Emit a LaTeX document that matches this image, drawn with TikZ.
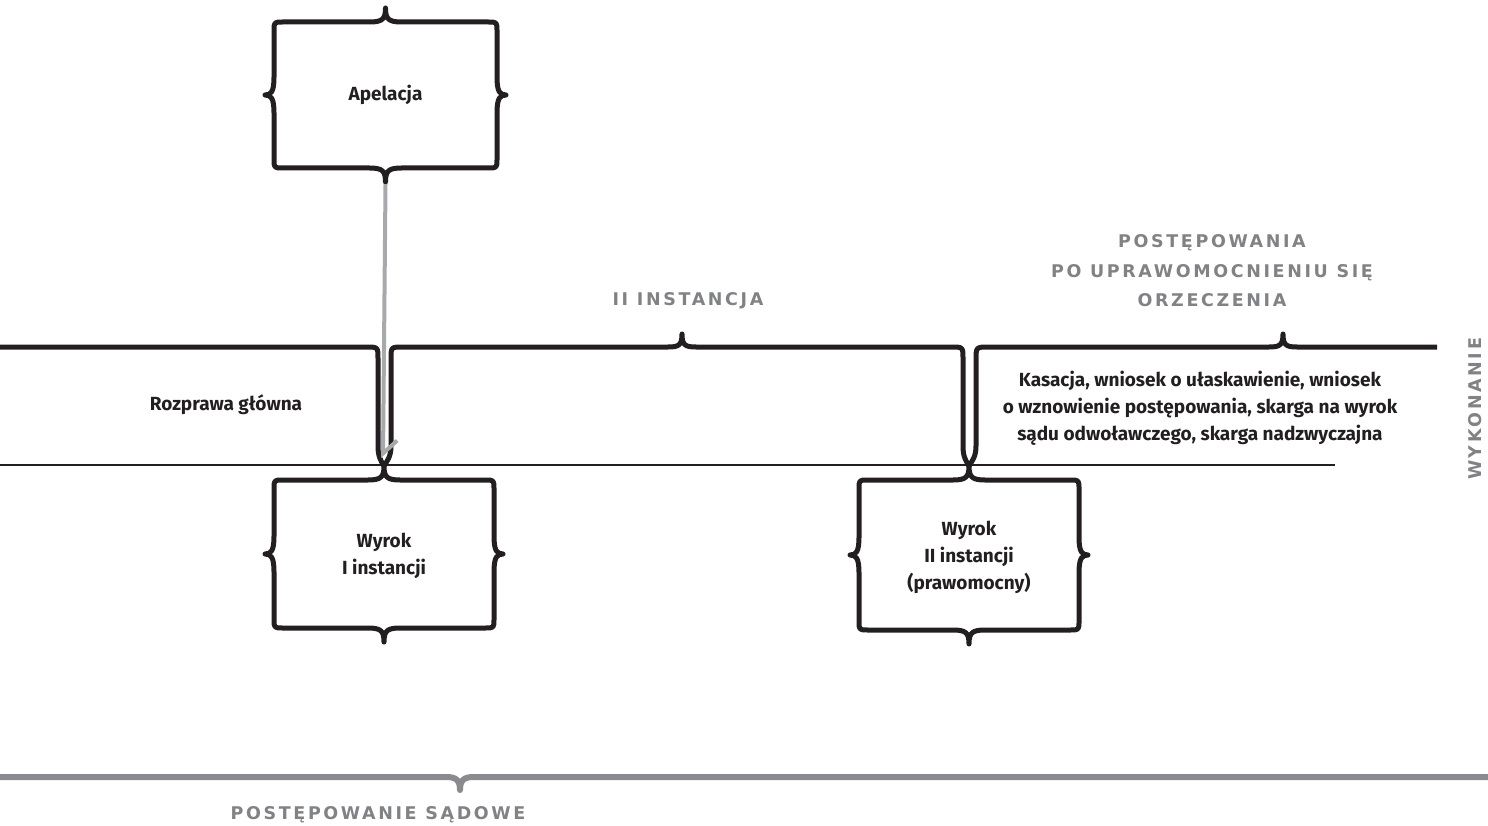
\documentclass[tikz,border=0pt]{standalone}
\usepackage{fontspec}
\setmainfont{Fira Sans}
\newfontfamily\capfont{DejaVu Sans}[LetterSpace=15]
\usetikzlibrary{arrows.meta,calc}
\definecolor{ink}{HTML}{231F20}
\definecolor{lbl}{HTML}{808285}
\definecolor{arr}{HTML}{A7A9AC}
\definecolor{brc}{HTML}{8A8B8E}
\tikzset{
  boxline/.style={draw=ink, line width=5pt, line join=round},
  thinline/.style={draw=ink, line width=2pt},
  greybrace/.style={draw=brc, line width=6pt, line join=round},
  arrowline/.style={draw=arr, line width=4pt, -{Straight Barb[harpoon,length=13pt,width=28pt]}},
  boxtext/.style={font={\fontsize{19}{27}\selectfont\bfseries}, text=ink, align=center, inner sep=0pt},
  caplabel/.style={font={\capfont\fontsize{17.5}{29.5}\selectfont\bfseries}, text=lbl, align=center, inner sep=0pt},
}
\newcommand{\BBox}[4]{%
\begin{scope}[shift={(#1,#2)}]
\draw[boxline]
 ({-#3+9},-#4) -- (-16,-#4) .. controls (-3,-#4) and (0,{-#4-3}) .. (0,{-#4-14})
 .. controls (0,{-#4-3}) and (3,-#4) .. (16,-#4) -- ({#3-9},-#4)
 .. controls (#3,-#4) .. (#3,{-#4+9}) -- (#3,-18) .. controls (#3,-3) and ({#3+3},0) .. ({#3+9},0)
 .. controls ({#3+3},0) and (#3,3) .. (#3,18) -- (#3,{#4-9}) .. controls (#3,#4) .. ({#3-9},#4)
 -- (16,#4) .. controls (3,#4) and (0,{#4+3}) .. (0,{#4+14}) .. controls (0,{#4+3}) and (-3,#4) .. (-16,#4)
 -- ({-#3+9},#4) .. controls (-#3,#4) .. (-#3,{#4-9}) -- (-#3,18) .. controls (-#3,3) and ({-#3-3},0) .. ({-#3-9},0)
 .. controls ({-#3-3},0) and (-#3,-3) .. (-#3,-18) -- (-#3,{-#4+9}) .. controls (-#3,-#4) .. ({-#3+9},-#4) -- cycle;
\end{scope}}
\begin{document}
\begin{tikzpicture}[x=1pt,y=-1pt]
\useasboundingbox (0,0) rectangle (1488,826);
% boxes
\BBox{385.5}{95}{111.5}{73}
\node[boxtext, minimum width=223pt, minimum height=146pt] (apel) at (385.5,95) {Apelacja};
\BBox{384}{554}{110}{74}
\node[boxtext, minimum width=220pt, minimum height=148pt] (w1) at (384,556) {Wyrok\\I instancji};
\BBox{969}{555}{110}{75}
\node[boxtext, minimum width=220pt, minimum height=150pt] (w2) at (969,557) {Wyrok\\II instancji\\(prawomocny)};
% junctions
\coordinate (j1) at (384,466);
\coordinate (j2) at (969,466);
% thin line
\coordinate (tl) at (0,465);
\coordinate (tr) at (1335,465);
\draw[thinline] (tl) -- (tr);
% top brackets
\coordinate (bl) at (0,347);
\draw[boxline] (bl) -- (366,347) .. controls (378,347) .. (378,359) -- (378,446)
  .. controls (378,457) and (381,461) .. (j1);
\draw[boxline] (j1) .. controls (387,461) and (391,457) .. (391,446) -- (391,359)
  .. controls (391,347) .. (403,347) -- (668,347) .. controls (679,347) and (682,345) .. (682,334)
  .. controls (682,345) and (685,347) .. (696,347) -- (951,347)
  .. controls (963,347) .. (963,359) -- (963,446) .. controls (963,457) and (966,461) .. (j2);
\coordinate (br) at (1437,347);
\draw[boxline] (j2) .. controls (972,461) and (976,457) .. (976,446) -- (976,360)
  .. controls (976,347) .. (989,347) -- (1269,347) .. controls (1280,347) and (1283,345) .. (1283,334)
  .. controls (1283,345) and (1286,347) .. (1297,347) -- (br);
% arrow
\draw[arrowline] ($(apel.south)+(0,16)$) -- ($(j1)+(-1,-8)$);
% bottom brace
\coordinate (gl) at (0,777);
\coordinate (gr) at (1488,777);
\draw[greybrace] (gl) -- (446,777) .. controls (456,777) and (460,780) .. (460,790)
  .. controls (460,780) and (464,777) .. (474,777) -- (gr);
% labels
\node[boxtext] (rozp) at (226,405) {Rozprawa główna};
\node[boxtext] (kas) at (1200,408) {Kasacja, wniosek o ułaskawienie, wniosek\\o wznowienie postępowania, skarga na wyrok\\sądu odwoławczego, skarga nadzwyczajna};
\node[caplabel] (inst2) at (688,301) {II INSTANCJA};
\node[caplabel] (popraw) at (1212,271) {POSTĘPOWANIA\\PO UPRAWOMOCNIENIU SIĘ\\ORZECZENIA};
\node[caplabel] (sad) at (378,815) {POSTĘPOWANIE SĄDOWE};
\node[caplabel, rotate=90] (wyk) at (1475,409) {WYKONANIE};
\end{tikzpicture}
\end{document}
